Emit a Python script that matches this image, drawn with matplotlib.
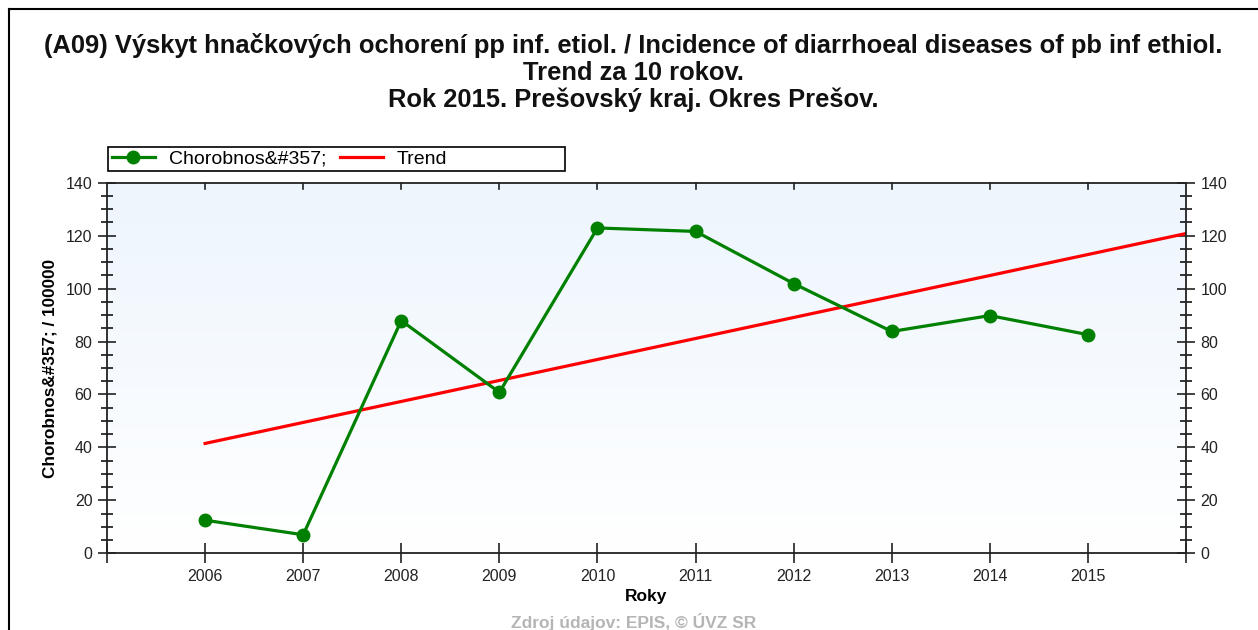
import matplotlib.pyplot as plt
import matplotlib.patches as mpatches
import numpy as np
from matplotlib.ticker import MultipleLocator
from matplotlib.colors import LinearSegmentedColormap

plt.rcParams['font.family'] = ['Liberation Sans', 'DejaVu Sans']

roky = [2006, 2007, 2008, 2009, 2010, 2011, 2012, 2013, 2014, 2015]
chorobnost = [12.5, 7.0, 87.9, 60.8, 122.9, 121.6, 101.9, 83.8, 89.8, 82.6]
trend_roky = [2006, 2016]
trend_hodnoty = [41.5, 120.8]

nazov = ["(A09) Výskyt hnačkových ochorení pp inf. etiol. / Incidence of diarrhoeal diseases of pb inf ethiol.",
         "Trend za 10 rokov.",
         "Rok 2015. Prešovský kraj. Okres Prešov."]

W, H = 1258, 630
fig = plt.figure(figsize=(W / 100, H / 100), dpi=100)

# ramik okolo grafu
fig.add_artist(plt.Line2D([9 / W, 1], [1 - 9 / H, 1 - 9 / H], color='black', lw=1.5))
fig.add_artist(plt.Line2D([9 / W, 9 / W], [0, 1 - 9 / H], color='black', lw=1.5))

for i, riadok in enumerate(nazov):
    fig.text(633 / W, 1 - (45 + 27.5 * i) / H, riadok, ha='center', va='center',
             fontsize=18.4, fontweight='bold', color='#111111')

ax = fig.add_axes([107 / W, 1 - 553.3 / H, (1186 - 107) / W, (553.3 - 182.7) / H])

# gradient pozadia
grad = np.linspace(0, 1, 256).reshape(-1, 1)
cmap = LinearSegmentedColormap.from_list('bg', ['#ffffff', '#edf5fd'])
ax.imshow(grad, aspect='auto', cmap=cmap, origin='lower',
          extent=[2005, 2016, 0, 140], zorder=0)

ax.plot(trend_roky, trend_hodnoty, color='#ff0000', lw=2.3, label='Trend', zorder=2)
ax.plot(roky, chorobnost, color='#008000', lw=2.3, marker='o', markersize=9,
        label='Chorobnos&#357;', zorder=3)

ax.set_xlim(2005, 2016)
ax.set_ylim(0, 140)
ax.set_xticks(range(2005, 2017))
ax.set_xticklabels([''] + [str(r) for r in roky] + [''])
ax.yaxis.set_major_locator(MultipleLocator(20))
ax.yaxis.set_minor_locator(MultipleLocator(5))

for s in ax.spines.values():
    s.set_linewidth(1.3)
    s.set_color('#222222')

ax.tick_params(axis='y', which='major', direction='inout', length=13, width=1.2,
               left=True, right=True, labelleft=True, labelright=True,
               labelsize=11.5, colors='#222222', pad=4)
ax.tick_params(axis='y', which='minor', direction='inout', length=8, width=1.1,
               left=True, right=True)
ax.tick_params(axis='x', which='major', direction='inout', length=14, width=1.2,
               bottom=True, top=False, labelsize=11.5, colors='#222222', pad=4)
for r in roky:
    ax.plot([r, r], [140, 140 - 6 / 2.647], color='#222222', lw=1.2,
            clip_on=False, zorder=4)

ax.set_ylabel('Chorobnos&#357; / 100000', fontsize=12.3, fontweight='bold', labelpad=6)
ax.set_xlabel('Roky', fontsize=12.5, fontweight='bold', labelpad=4)

fig.text(634 / W, 1 - 613 / H, 'Zdroj údajov: EPIS, © ÚVZ SR', ha='center', va='top',
         fontsize=12.5, fontweight='bold', color='#b5b5b5')

# legenda
fig.add_artist(mpatches.Rectangle((108 / W, 1 - 171 / H), (565 - 108) / W, 24 / H,
                                  transform=fig.transFigure, fill=False,
                                  edgecolor='black', lw=1.2))
h, l = ax.get_legend_handles_labels()
fig.legend(h[::-1], l[::-1], loc='center left', bbox_to_anchor=(112 / W, 1 - 159 / H),
           ncol=2, frameon=False, fontsize=14, handlelength=2.2, columnspacing=0.7,
           handletextpad=0.72, borderaxespad=0, borderpad=0)

fig.savefig('out.png', dpi=100)
